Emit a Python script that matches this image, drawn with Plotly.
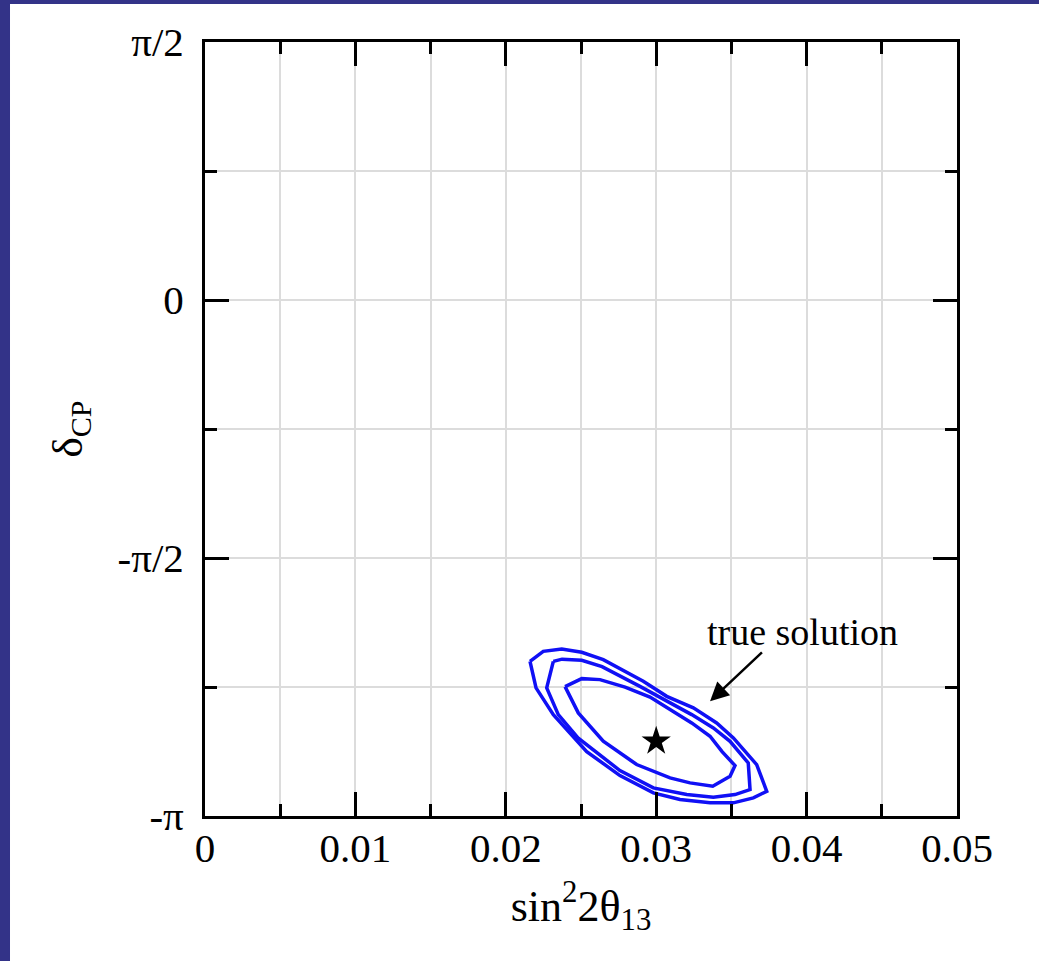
import numpy as np
import plotly.graph_objects as go

PI = np.pi

# Contour data: sin^2(2theta13) and delta_CP (in units of pi)
outer_x = [0.02161, 0.02249, 0.02372, 0.02505, 0.02648, 0.02914, 0.03070, 0.03247, 0.03402, 0.03513,
           0.03668, 0.03735, 0.03646, 0.03513, 0.03358, 0.03158, 0.02981, 0.02759, 0.02538, 0.02316, 0.02201]
outer_d = [-0.7003, -0.6809, -0.6763, -0.6828, -0.6970, -0.7390, -0.7681, -0.7905, -0.8196, -0.8486,
           -0.9003, -0.9521, -0.9648, -0.9745, -0.9745, -0.9681, -0.9552, -0.9216, -0.8752, -0.8035, -0.7518]

middle_x = [0.02316, 0.02374, 0.02505, 0.02640, 0.02892, 0.03070, 0.03236, 0.03380, 0.03491, 0.03612,
            0.03624, 0.03524, 0.03380, 0.03203, 0.02981, 0.02759, 0.02480, 0.02349, 0.02272]
middle_d = [-0.7003, -0.6960, -0.6983, -0.7105, -0.7487, -0.7778, -0.8035, -0.8293, -0.8552, -0.8971,
            -0.9488, -0.9585, -0.9637, -0.9585, -0.9455, -0.9120, -0.8486, -0.8035, -0.7518]

inner_x = [0.02394, 0.02505, 0.02626, 0.02793, 0.02959, 0.03092, 0.03236, 0.03358, 0.03438, 0.03524,
           0.03491, 0.03376, 0.03225, 0.03092, 0.02870, 0.02648, 0.02482]
inner_d = [-0.7493, -0.7338, -0.7357, -0.7502, -0.7696, -0.7938, -0.8196, -0.8455, -0.8752, -0.9023,
           -0.9230, -0.9424, -0.9358, -0.9261, -0.9003, -0.8552, -0.8002]

true_x = [0.030]
true_d = [-0.855]

# annotation (arrow head / tail / text) positions in data units
arrow_head = (0.03358, -0.7777)
arrow_tail = (0.03723, -0.6776)
label_pos = (0.03976, -0.6427)

x_ticks = [0, 0.01, 0.02, 0.03, 0.04, 0.05]
x_ticktext = ["0", "0.01", "0.02", "0.03", "0.04", "0.05"]
y_ticks_pi = [-1, -0.5, 0, 0.5]
y_ticktext = ["-π", "-π/2", "0", "π/2"]

BLUE = "#1010f5"
FONT = "Liberation Serif"


def closed(xs, ds):
    return list(xs) + [xs[0]], [d * PI for d in ds] + [ds[0] * PI]


fig = go.Figure()
for xs, ds in [(outer_x, outer_d), (middle_x, middle_d), (inner_x, inner_d)]:
    cx, cy = closed(xs, ds)
    fig.add_trace(go.Scatter(x=cx, y=cy, mode="lines",
                             line=dict(color=BLUE, width=3.5), showlegend=False))

fig.add_trace(go.Scatter(x=true_x, y=[d * PI for d in true_d], mode="markers",
                         marker=dict(symbol="star", size=22, color="black"),
                         showlegend=False))

fig.add_annotation(x=arrow_head[0], y=arrow_head[1] * PI, ax=arrow_tail[0], ay=arrow_tail[1] * PI,
                   xref="x", yref="y", axref="x", ayref="y", text=" ", showarrow=True,
                   arrowhead=2, arrowsize=1.5, arrowwidth=2.5, arrowcolor="black")
fig.add_annotation(x=label_pos[0], y=label_pos[1] * PI, xref="x", yref="y", text="true solution",
                   showarrow=False, font=dict(family=FONT, size=38, color="black"))

axis_common = dict(showline=True, linecolor="black", linewidth=3, mirror="allticks",
                   ticks="inside", ticklen=24, tickwidth=2.5, tickcolor="black",
                   showgrid=True, gridcolor="#dcdcdc", gridwidth=2, zeroline=False,
                   tickfont=dict(family=FONT, size=41, color="black"))

fig.update_xaxes(range=[0, 0.05], tickvals=x_ticks, ticktext=x_ticktext,
                 minor=dict(dtick=0.005, tick0=0, ticks="inside", ticklen=12, tickwidth=2.5,
                            tickcolor="black", showgrid=True, gridcolor="#dcdcdc", gridwidth=2),
                 title=dict(text="sin<sup>2</sup>2θ<sub>13</sub>", font=dict(family=FONT, size=44, color="black"),
                            standoff=20),
                 ticklabelstandoff=-6,
                 **axis_common)
fig.update_yaxes(range=[-PI, PI / 2], tickvals=[v * PI for v in y_ticks_pi], ticktext=y_ticktext,
                 minor=dict(dtick=PI / 4, tick0=-PI, ticks="inside", ticklen=12, tickwidth=2.5,
                            tickcolor="black", showgrid=True, gridcolor="#dcdcdc", gridwidth=2),
                 title=dict(text="δ<sub>CP</sub>", font=dict(family=FONT, size=43, color="black"),
                            standoff=22),
                 ticklabelstandoff=10,
                 **axis_common)

# dark blue frame strips (left and top)
fig.add_shape(type="rect", xref="paper", yref="paper", x0=-0.40, x1=-0.2593, y0=-0.3, y1=1.2,
              fillcolor="#333388", line_width=0, layer="above")
fig.add_shape(type="rect", xref="paper", yref="paper", x0=-0.40, x1=1.2, y0=1.0491, y1=1.2,
              fillcolor="#333388", line_width=0, layer="above")

fig.update_layout(width=1039, height=961, margin=dict(l=205, r=82, t=42, b=145),
                  plot_bgcolor="white", paper_bgcolor="white", showlegend=False)

fig.write_html("out.html", config={"displayModeBar": False},
               post_script="document.body.style.margin='0';document.body.style.padding='0';"
                           "document.body.style.overflow='hidden';")
